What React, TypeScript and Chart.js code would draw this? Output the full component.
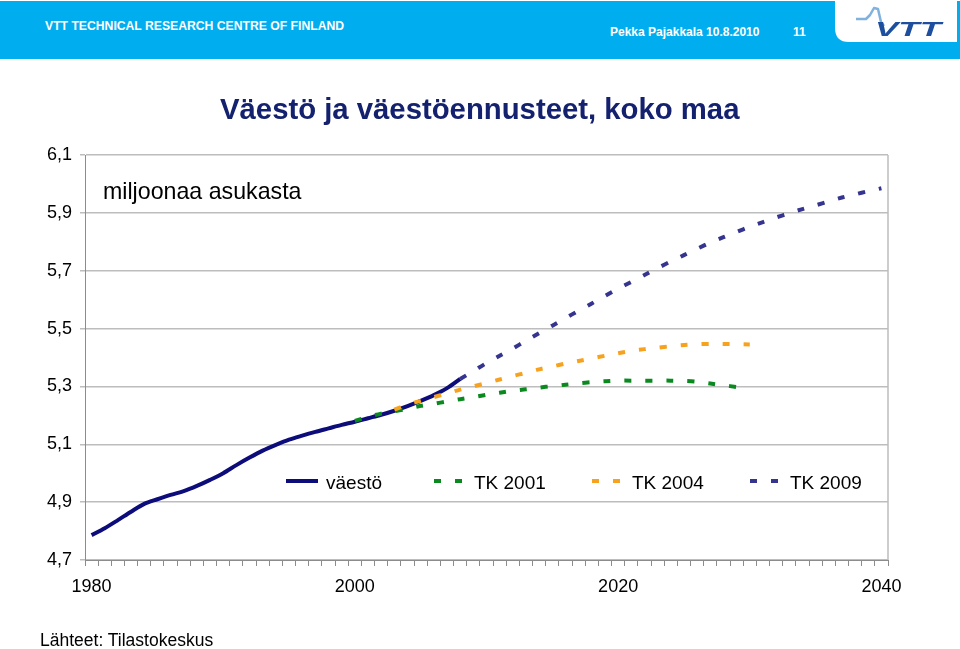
import React, { useEffect, useRef } from 'react';
import { Chart, registerables } from 'chart.js';

Chart.register(...registerables);

// ---- data ----
const firstYear = 1980;
const lastYear = 2040;
const categories: string[] = Array.from({ length: lastYear - firstYear + 1 }, (_, i) => String(firstYear + i));
const labeledYears = ['1980', '2000', '2020', '2040'];

const yTicks = [4.7, 4.9, 5.1, 5.3, 5.5, 5.7, 5.9, 6.1];

const vaestoStart = 1980;
const vaesto = [
  4.786, 4.810, 4.838, 4.867, 4.894, 4.910, 4.925, 4.938, 4.956, 4.977,
  5.000, 5.028, 5.054, 5.078, 5.098, 5.116, 5.130, 5.143, 5.155, 5.167,
  5.178, 5.190, 5.202, 5.216, 5.232, 5.250, 5.270, 5.294, 5.326,
];

const tk2001Start = 2000;
const tk2001 = [
  5.181, 5.195, 5.206, 5.214, 5.223, 5.233, 5.240, 5.248, 5.256, 5.263,
  5.271, 5.278, 5.285, 5.290, 5.296, 5.301, 5.306, 5.311, 5.315, 5.318,
  5.320, 5.320, 5.320, 5.320, 5.320, 5.319, 5.316, 5.310, 5.304, 5.298,
  5.291,
];

const tk2004Start = 2003;
const tk2004 = [
  5.220, 5.237, 5.250, 5.263, 5.276, 5.289, 5.300, 5.312, 5.324, 5.336,
  5.347, 5.359, 5.369, 5.379, 5.388, 5.397, 5.406, 5.415, 5.423, 5.429,
  5.434, 5.439, 5.443, 5.446, 5.447, 5.447, 5.446, 5.445,
];

const tk2009Start = 2008;
const tk2009 = [
  5.326, 5.353, 5.381, 5.406, 5.431, 5.458, 5.484, 5.510, 5.536, 5.562,
  5.587, 5.613, 5.638, 5.661, 5.685, 5.709, 5.732, 5.754, 5.776, 5.797,
  5.816, 5.834, 5.852, 5.868, 5.884, 5.899, 5.913, 5.926, 5.940, 5.953,
  5.964, 5.975, 5.985,
];

const seriesLabels = ['väestö', 'TK 2001', 'TK 2004', 'TK 2009'];

// ---- styles ----
const FONT = '"Liberation Sans", Arial, Helvetica, sans-serif';
const GRID = '#bdbdbd';
const AXIS = '#8c8c8c';
const COLORS = ['#0c0c7a', '#0a8a1e', '#f7a21e', '#35358f'];
const LEGEND_TEXT_X = [326, 474, 632, 790];
const LEGEND_Y = 484;
const DASH = [7, 14];

const toPoints = (start: number, vals: number[]) =>
  vals.map((v, i) => ({ x: String(start + i), y: v }));

const overlayPlugin = {
  id: 'overlay',
  afterDraw(chart: any) {
    const { ctx, chartArea } = chart;
    ctx.save();
    // right border of plot area
    ctx.strokeStyle = GRID;
    ctx.lineWidth = 1.5;
    ctx.beginPath();
    ctx.moveTo(chartArea.right, chartArea.top);
    ctx.lineTo(chartArea.right, chartArea.bottom);
    ctx.stroke();
    // legend
    chart.data.datasets.forEach((ds: any, i: number) => {
      const tx = LEGEND_TEXT_X[i];
      ctx.strokeStyle = ds.borderColor;
      ctx.lineWidth = ds.borderWidth;
      ctx.lineCap = 'butt';
      ctx.setLineDash(ds.borderDash || []);
      ctx.beginPath();
      ctx.moveTo(tx - 40, LEGEND_Y - 3);
      ctx.lineTo(tx - 8, LEGEND_Y - 3);
      ctx.stroke();
      ctx.setLineDash([]);
      ctx.fillStyle = '#000';
      ctx.font = `19px ${FONT}`;
      ctx.textBaseline = 'middle';
      ctx.textAlign = 'left';
      ctx.fillText(ds.label, tx, LEGEND_Y);
    });
    ctx.restore();
  },
};

function ChartCanvas() {
  const ref = useRef<HTMLCanvasElement | null>(null);
  useEffect(() => {
    if (!ref.current) return;
    const seriesData = [
      toPoints(vaestoStart, vaesto),
      toPoints(tk2001Start, tk2001),
      toPoints(tk2004Start, tk2004),
      toPoints(tk2009Start, tk2009),
    ];
    const chart = new Chart(ref.current, {
      type: 'line',
      data: {
        labels: categories,
        datasets: seriesData.map((d, i) => ({
          label: seriesLabels[i],
          data: d,
          borderColor: COLORS[i],
          backgroundColor: COLORS[i],
          borderWidth: 4,
          borderDash: i === 0 ? [] : DASH,
          borderCapStyle: 'butt',
          pointRadius: 0,
          tension: 0.3,
          fill: false,
          order: 3 - i,
        })),
      },
      options: {
        responsive: false,
        animation: false,
        devicePixelRatio: 1,
        layout: { padding: { top: 155, right: 72, bottom: 0, left: 0 } },
        plugins: {
          legend: { display: false },
          tooltip: { enabled: false },
          title: { display: false },
        },
        scales: {
          x: {
            type: 'category',
            offset: true,
            afterFit: (s: any) => { s.height = 89; },
            grid: {
              display: true,
              drawOnChartArea: false,
              drawTicks: true,
              tickLength: 6,
              color: AXIS,
              offset: true,
            },
            border: { display: true, color: AXIS, width: 1 },
            ticks: {
              autoSkip: false,
              maxRotation: 0,
              minRotation: 0,
              padding: 10,
              color: '#000',
              font: { family: FONT, size: 18 },
              callback: function (this: any, val: any) {
                const l = this.getLabelForValue(val);
                return labeledYears.includes(l) ? l : '';
              },
            },
          },
          y: {
            min: yTicks[0],
            max: yTicks[yTicks.length - 1],
            afterFit: (s: any) => { s.width = 85; },
            afterBuildTicks: (s: any) => { s.ticks = yTicks.map((v) => ({ value: v })); },
            grid: {
              color: GRID,
              lineWidth: 1.5,
              drawTicks: true,
              tickLength: 5,
            },
            border: { display: true, color: AXIS, width: 1 },
            ticks: {
              padding: 8,
              color: '#000',
              font: { family: FONT, size: 18 },
              callback: (v: any) => Number(v).toFixed(1).replace('.', ','),
            },
          },
        },
      },
      plugins: [overlayPlugin],
    } as any);
    return () => chart.destroy();
  }, []);
  return <canvas ref={ref} width={960} height={649} style={{ position: 'absolute', left: 0, top: 0 }} />;
}

const txt = (s: number): React.CSSProperties => ({
  position: 'absolute',
  whiteSpace: 'nowrap',
  fontFamily: FONT,
  fontSize: s,
  lineHeight: `${s}px`,
  margin: 0,
});

export default function App() {
  return (
    <div style={{ position: 'fixed', left: 0, top: 0, width: 960, height: 649, background: '#fff', overflow: 'hidden' }}>
      <ChartCanvas />
      {/* header band */}
      <div style={{ position: 'absolute', left: 0, top: 1, width: 960, height: 58, background: '#00adef' }} />
      <div style={{ ...txt(12.2), left: 45, top: 19.5, color: '#fff', fontWeight: 'bold' }}>VTT TECHNICAL RESEARCH CENTRE OF FINLAND</div>
      <div style={{ ...txt(12), left: 610, top: 25.5, color: '#fff', fontWeight: 'bold' }}>Pekka Pajakkala 10.8.2010</div>
      <div style={{ ...txt(12), left: 793, top: 25.5, color: '#fff', fontWeight: 'bold' }}>11</div>
      <svg style={{ position: 'absolute', left: 835, top: 0 }} width={122} height={43} viewBox="0 0 122 43">
        <path d="M0 0 H122 V42 H14 Q0 42 0 28 Z" fill="#fff" />
        <polyline points="21,19 31,19 35,15 39,8 43,9 46,22 49,26" fill="none" stroke="#7fb2dc" strokeWidth={2.5} strokeLinejoin="round" />
        <text x={40} y={36} fill="#1d4f9e" fontFamily={FONT} fontWeight={900} fontStyle="italic" fontSize={21} textLength={66} lengthAdjust="spacingAndGlyphs">VTT</text>
      </svg>
      {/* title */}
      <div style={{ ...txt(29.3), left: 220, top: 93.6, color: '#14216e', fontWeight: 'bold' }}>Väestö ja väestöennusteet, koko maa</div>
      <div style={{ ...txt(23.2), left: 103, top: 179.5, color: '#000' }}>miljoonaa asukasta</div>
      <div style={{ ...txt(17.5), left: 40, top: 631.5, color: '#000' }}>Lähteet: Tilastokeskus</div>
    </div>
  );
}
